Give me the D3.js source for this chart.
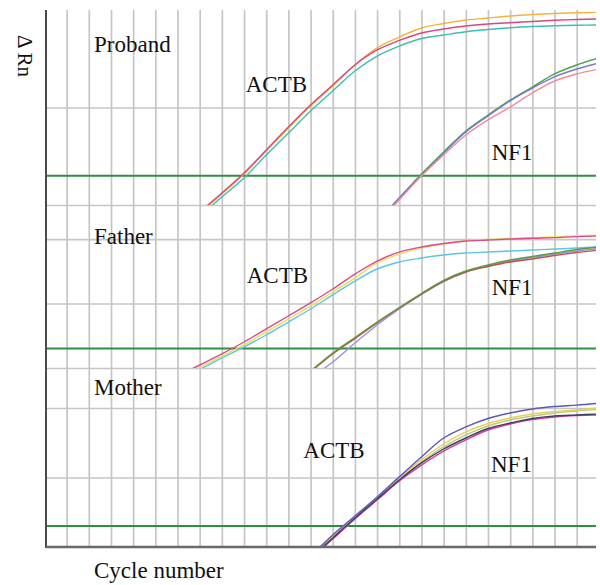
<!DOCTYPE html>
<html>
<head>
<meta charset="utf-8">
<script src="https://cdn.jsdelivr.net/npm/d3@7"></script>
<style>
  html, body { margin: 0; padding: 0; background: #ffffff; }
  svg { display: block; }
  text { font-family: "Liberation Serif", "Times New Roman", serif; fill: #111111; }
</style>
</head>
<body>
<div id="chart"></div>
<script>
// ---------------- DATA ----------------
const cycles = [1,2,3,4,5,6,7,8,9,10,11,12,13,14,15,16,17,18,19,20,21,22,23,24,25];
const gridCycles = [1,2,3,4,5,6,7,8,9,10,11,12,13,14,15,16,17,18,19,20,21,22,23,24];

const panelNames = ["Proband", "Father", "Mother"];
const thresholds = [0.2, 0.02, 0.02];

// ΔRn per cycle (null = not plotted)
const probandACTB_orange = [null,null,null,null,null,null,0.082,0.130,0.208,0.358,0.617,1.04,1.66,2.73,4.08,5.28,6.54,7.27,7.89,8.28,8.68,8.99,9.21,9.36,9.47];
const probandACTB_magenta = [null,null,null,null,null,null,0.0848,0.133,0.213,0.366,0.631,1.06,1.70,2.73,3.89,4.87,5.81,6.38,6.85,7.18,7.41,7.62,7.84,7.99,8.09];
const probandACTB_cyan = [null,null,null,null,null,null,0.0771,0.121,0.189,0.326,0.547,0.921,1.48,2.37,3.37,4.27,5.10,5.54,5.99,6.31,6.58,6.77,6.89,6.97,7.02];
const probandNF1_green = [null,null,null,null,null,null,null,null,null,null,null,null,null,null,0.0669,0.118,0.208,0.350,0.574,0.838,1.19,1.62,2.21,2.73,3.22];
const probandNF1_blue = [null,null,null,null,null,null,null,null,null,null,null,null,null,null,0.0669,0.118,0.203,0.341,0.561,0.818,1.17,1.58,2.06,2.48,2.86];
const probandNF1_pink = [null,null,null,null,null,null,null,null,null,null,null,null,null,null,0.0638,0.113,0.198,0.326,0.522,0.745,1.01,1.41,1.87,2.21,2.48];

const fatherACTB_magenta = [null,null,null,null,null,0.00752,0.01113,0.0165,0.0253,0.0403,0.0640,0.102,0.168,0.286,0.456,0.628,0.752,0.851,0.931,0.964,1.00,1.03,1.05,1.09,1.11];
const fatherACTB_yellow = [null,null,null,null,null,0.0070,0.0102,0.0153,0.0228,0.0361,0.0575,0.0914,0.151,0.248,0.425,0.585,0.724,0.835,0.931,0.982,1.02,1.05,1.08,1.12,1.15];
const fatherACTB_cyan = [null,null,null,null,null,0.00652,0.00948,0.0143,0.0212,0.0325,0.0516,0.0822,0.136,0.223,0.343,0.440,0.507,0.565,0.607,0.628,0.651,0.675,0.699,0.724,0.761];
const fatherNF1_green = [null,null,null,null,null,null,null,null,null,null,null,0.00898,0.0171,0.0297,0.0516,0.0867,0.143,0.228,0.319,0.395,0.472,0.536,0.607,0.687,0.752];
const fatherNF1_red = [null,null,null,null,null,null,null,null,null,null,null,0.00867,0.0165,0.0286,0.0499,0.0851,0.140,0.223,0.308,0.375,0.440,0.490,0.555,0.618,0.675];
const fatherNF1_lavender = [null,null,null,null,null,null,null,null,null,null,null,0.0070,0.0124,0.0244,0.0464,0.0822,0.138,0.219,0.308,0.381,0.456,0.516,0.585,0.651,0.713];

const mother_blue = [null,null,null,null,null,null,null,null,null,null,null,0.00742,0.0149,0.0279,0.0524,0.102,0.197,0.370,0.533,0.706,0.847,0.968,1.05,1.10,1.17];
const mother_yellow = [null,null,null,null,null,null,null,null,null,null,null,0.00742,0.0144,0.0270,0.0507,0.0984,0.179,0.303,0.452,0.598,0.718,0.820,0.891,0.936,1.00];
const mother_tan = [null,null,null,null,null,null,null,null,null,null,null,0.00718,0.0144,0.0270,0.0507,0.0951,0.167,0.275,0.409,0.551,0.671,0.767,0.847,0.906,0.951];
const mother_dark = [null,null,null,null,null,null,null,null,null,null,null,0.00695,0.0135,0.0261,0.0491,0.0921,0.162,0.257,0.370,0.507,0.608,0.706,0.767,0.793,0.820];
const mother_magenta = [null,null,null,null,null,null,null,null,null,null,null,0.00672,0.0130,0.0253,0.0474,0.0891,0.151,0.240,0.347,0.482,0.589,0.684,0.743,0.780,0.793];

// ---------------- LAYOUT ----------------
const W = 600, H = 585;
const plotL = 46, plotR = 596, plotT = 10, plotB = 547;

const panels = [
  { name: "Proband", y0: 205, y1: 10, domain: [0.1, 10], grid: [0.1, 1], thr: thresholds[0],
    series: [
      { v: probandACTB_orange, c: "#f4b43c" },
      { v: probandACTB_magenta, c: "#d8487e" },
      { v: probandACTB_cyan, c: "#3cbfae" },
      { v: probandNF1_green, c: "#4aa448" },
      { v: probandNF1_blue, c: "#7878d6" },
      { v: probandNF1_pink, c: "#f28a9c" }
    ],
    labels: [
      { t: "Proband", x: 94, y: 51.7 },
      { t: "ACTB", x: 245.7, y: 92.3 },
      { t: "NF1", x: 491.7, y: 160 }
    ]
  },
  { name: "Father", y0: 368, y1: 205, domain: [0.01, 3.37], grid: [0.01, 0.1, 1], thr: thresholds[1],
    series: [
      { v: fatherACTB_cyan, c: "#5cc6e2" },
      { v: fatherACTB_yellow, c: "#eedc5a" },
      { v: fatherACTB_magenta, c: "#dc4a90" },
      { v: fatherNF1_lavender, c: "#9a92e2" },
      { v: fatherNF1_red, c: "#c0504c" },
      { v: fatherNF1_green, c: "#5f9a3c" }
    ],
    labels: [
      { t: "Father", x: 94, y: 244.3 },
      { t: "ACTB", x: 246.7, y: 283.3 },
      { t: "NF1", x: 491.7, y: 295 }
    ]
  },
  { name: "Mother", y0: 547, y1: 368, domain: [0.01, 3.76], grid: [0.1, 1], thr: thresholds[2],
    series: [
      { v: mother_tan, c: "#b9cc7c" },
      { v: mother_yellow, c: "#e8cf5e" },
      { v: mother_magenta, c: "#d43ea4" },
      { v: mother_dark, c: "#3e3e62" },
      { v: mother_blue, c: "#5656c6" }
    ],
    labels: [
      { t: "Mother", x: 94, y: 395 },
      { t: "ACTB", x: 303.3, y: 457.7 },
      { t: "NF1", x: 491, y: 472.3 }
    ]
  }
];

const svg = d3.select("#chart").append("svg")
  .attr("width", W).attr("height", H);

const x = d3.scaleLinear().domain([0.07, 24.87]).range([plotL, plotR]);

// vertical grid
svg.append("g")
  .attr("transform", `translate(0,${plotB})`)
  .call(d3.axisBottom(x).tickValues(gridCycles).tickSize(-(plotB - plotT)).tickFormat(""))
  .call(g => g.select(".domain").remove())
  .call(g => g.selectAll(".tick line").attr("stroke", "#c6c6c6").attr("stroke-width", 1.7));

panels.forEach((p, i) => {
  const y = d3.scaleLog().domain(p.domain).range([p.y0, p.y1]);

  // horizontal grid
  svg.append("g")
    .attr("transform", `translate(${plotL},0)`)
    .call(d3.axisLeft(y).tickValues(p.grid).tickSize(-(plotR - plotL)).tickFormat(""))
    .call(g => g.select(".domain").remove())
    .call(g => g.selectAll(".tick line").attr("stroke", "#c6c6c6").attr("stroke-width", 1.7));

  // threshold
  svg.append("line")
    .attr("x1", x.range()[0]).attr("x2", x.range()[1])
    .attr("y1", y(p.thr)).attr("y2", y(p.thr))
    .attr("stroke", "#2f8f3e").attr("stroke-width", 2);

  // clip
  const clipId = "clip" + i;
  svg.append("clipPath").attr("id", clipId)
    .append("rect")
    .attr("x", plotL).attr("y", p.y1)
    .attr("width", plotR - plotL).attr("height", p.y0 - p.y1);

  const line = d3.line()
    .defined(d => d.v != null)
    .x(d => x(d.c))
    .y(d => y(d.v))
    .curve(d3.curveCatmullRom.alpha(0.5));

  const g = svg.append("g").attr("clip-path", `url(#${clipId})`);
  p.series.forEach(s => {
    const pts = cycles.map((c, k) => ({ c: c, v: s.v[k] }));
    g.append("path")
      .attr("d", line(pts))
      .attr("fill", "none")
      .attr("stroke", s.c)
      .attr("stroke-width", 1.4);
  });

  p.labels.forEach(l => {
    svg.append("text")
      .attr("x", l.x).attr("y", l.y)
      .attr("font-size", 23)
      .text(l.t);
  });
});

// axes lines
svg.append("line")
  .attr("x1", plotL).attr("x2", plotL).attr("y1", plotT).attr("y2", plotB + 1)
  .attr("stroke", "#4a4a4a").attr("stroke-width", 2);
svg.append("line")
  .attr("x1", plotL).attr("x2", plotR).attr("y1", plotB).attr("y2", plotB)
  .attr("stroke", "#6a6a6a").attr("stroke-width", 2.5);

// axis titles
svg.append("text")
  .attr("transform", "translate(18,56) rotate(90)")
  .attr("text-anchor", "middle")
  .attr("font-size", 21)
  .text("\u0394 Rn");

svg.append("text")
  .attr("x", 94).attr("y", 578)
  .attr("font-size", 23)
  .text("Cycle number");
</script>
</body>
</html>
